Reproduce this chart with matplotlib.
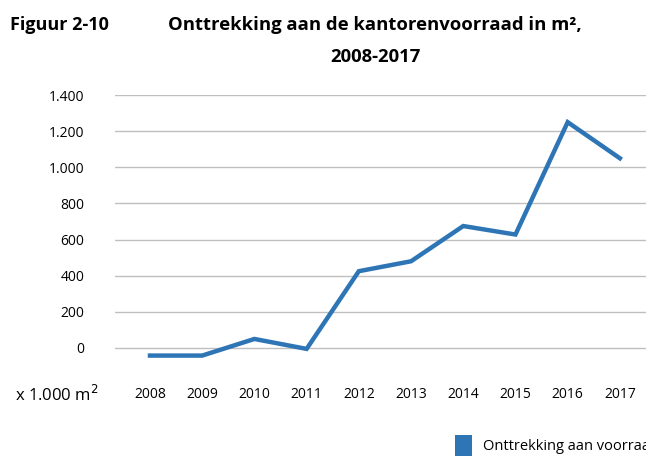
import matplotlib
matplotlib.use("Agg")
import matplotlib.pyplot as plt
from matplotlib.patches import Rectangle

years = ["2008", "2009", "2010", "2011", "2012", "2013", "2014", "2015", "2016", "2017"]
values = [-42, -42, 50, -5, 425, 480, 675, 628, 1250, 1050]
yticks = [0, 200, 400, 600, 800, 1000, 1200, 1400]
ytick_labels = ["0", "200", "400", "600", "800", "1.000", "1.200", "1.400"]
series_name = "Onttrekking aan voorraad"

plt.rcParams['font.family'] = ['Open Sans', 'DejaVu Sans']

fig = plt.figure(figsize=(6.46, 4.57), dpi=100)
ax = fig.add_axes([0.178, 0.199, 0.822, 0.593])

x = list(range(len(years)))
ax.plot(x, values, color="#2E75B6", linewidth=3.2, solid_joinstyle="miter", zorder=3)

ax.set_xlim(-0.67, 9.5)
ax.set_ylim(-100, 1400)
ax.set_yticks(yticks)
ax.set_yticklabels(ytick_labels, fontsize=10)
ax.set_xticks(x)
ax.set_xticklabels(years, fontsize=10)
ax.grid(axis="y", color="#BFBFBF", linewidth=1.0)
ax.set_axisbelow(True)
for s in ax.spines.values():
    s.set_visible(False)
ax.tick_params(axis="both", length=0)
ax.tick_params(axis="y", pad=22)
ax.tick_params(axis="x", pad=15)

fig.text(10 / 646, 1 - 25 / 457, "Figuur 2-10", fontsize=13, fontweight="bold", va="center", ha="left")
fig.text(375 / 646, 1 - 25 / 457, "Onttrekking aan de kantorenvoorraad in m²,", fontsize=13.3,
         fontweight="bold", va="center", ha="center")
fig.text(375 / 646, 1 - 57 / 457, "2008-2017", fontsize=13.3, fontweight="bold", va="center", ha="center")

fig.text(15 / 646, 1 - 395 / 457, "x 1.000 m$^2$", fontsize=12, va="center", ha="left")

fig.patches.append(Rectangle((455 / 646, 1 - 456 / 457), 17 / 646, 21 / 457,
                             transform=fig.transFigure, facecolor="#2E75B6", edgecolor="none"))
fig.text(483 / 646, 1 - 446 / 457, series_name, fontsize=10.5, va="center", ha="left")

fig.savefig("out.png", dpi=100)
